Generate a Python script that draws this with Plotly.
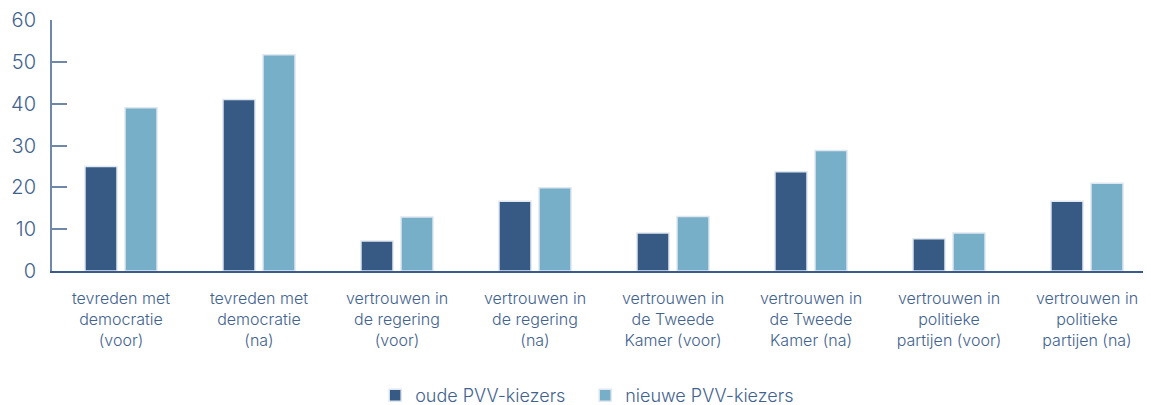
import plotly.graph_objects as go

categories = [
    "tevreden met<br>democratie<br>(voor)",
    "tevreden met<br>democratie<br>(na)",
    "vertrouwen in<br>de regering<br>(voor)",
    "vertrouwen in<br>de regering<br>(na)",
    "vertrouwen in<br>de Tweede<br>Kamer (voor)",
    "vertrouwen in<br>de Tweede<br>Kamer (na)",
    "vertrouwen in<br>politieke<br>partijen (voor)",
    "vertrouwen in<br>politieke<br>partijen (na)",
]
oude = [25, 41, 7.2, 16.7, 9.1, 23.7, 7.7, 16.7]
nieuwe = [39, 51.7, 12.9, 19.9, 13, 28.8, 9.1, 21]
y_ticks = [0, 10, 20, 30, 40, 50, 60]

dark = "#375a84"
light = "#77aec8"
text_col = "#42628e"
font_family = "Inter, Lato, sans-serif"

fig = go.Figure()
fig.add_trace(go.Bar(x=categories, y=oude, name="oude PVV-kiezers",
                     marker=dict(color=dark, line=dict(color="#dfe7f0", width=1.5))))
fig.add_trace(go.Bar(x=categories, y=nieuwe, name="nieuwe PVV-kiezers",
                     marker=dict(color=light, line=dict(color="#dfe7f0", width=1.5))))

fig.update_layout(
    width=1151, height=405,
    margin=dict(l=44, r=3, t=12, b=142, autoexpand=False),
    plot_bgcolor="white", paper_bgcolor="white",
    barmode="group", bargap=0.42, bargroupgap=0.2,
    font=dict(family=font_family, color=text_col, size=16, weight=300),
    showlegend=True,
    legend=dict(orientation="h", xref="container", x=0.319, xanchor="left",
                y=-0.423, yanchor="top",
                font=dict(size=18, color=text_col, weight=300), itemwidth=30,
                entrywidth=165, entrywidthmode="pixels"),
    xaxis=dict(showline=True, linecolor="#3a5a8c", linewidth=2, ticks="",
               tickfont=dict(size=16, color=text_col, weight=300), showgrid=False,
               automargin=False, ticklabelstandoff=12),
    yaxis=dict(range=[0, 60], tickvals=y_ticks, showline=True, linecolor="#7088a8",
               linewidth=2, ticks="inside", ticklen=15, tickwidth=2, tickcolor="#7088a8",
               showgrid=False, zeroline=False, tickfont=dict(size=20, color=text_col, weight=300),
               ticklabelstandoff=10, automargin=False),
)

fig.write_html("out.html")
